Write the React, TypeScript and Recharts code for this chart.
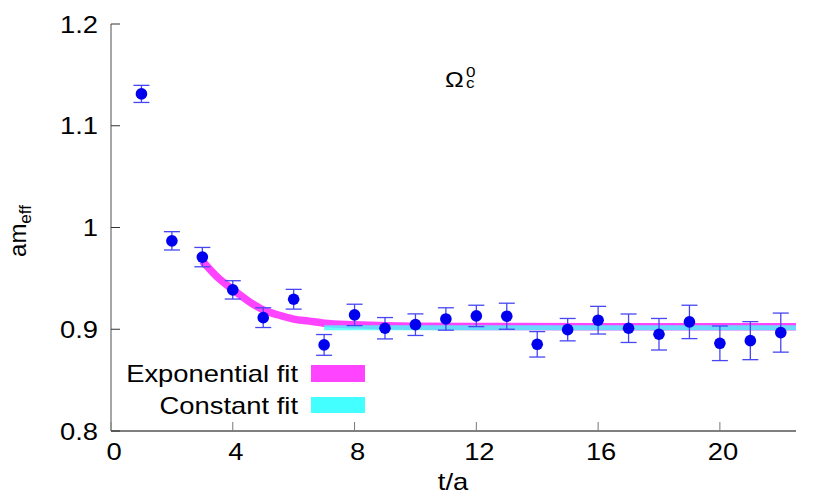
import React from 'react';
import {
  ComposedChart, Scatter, Line, XAxis, YAxis, ErrorBar,
} from 'recharts';

// effective mass data
const tValues = [1, 2, 3, 4, 5, 6, 7, 8, 9, 10, 11, 12, 13, 14, 15, 16, 17, 18, 19, 20, 21, 22];
const amEff = [
  1.1313, 0.9869, 0.9709, 0.9387, 0.9114, 0.9295, 0.8846, 0.9141, 0.9010, 0.9045, 0.9101,
  0.9131, 0.9128, 0.8852, 0.8996, 0.9089, 0.9010, 0.8951, 0.9072, 0.8862, 0.8888, 0.8967,
];
const amErr = [
  0.0084, 0.009, 0.0095, 0.009, 0.0097, 0.0097, 0.0102, 0.0105, 0.0105, 0.0106, 0.011,
  0.0105, 0.0128, 0.0125, 0.011, 0.0136, 0.014, 0.0155, 0.0164, 0.017, 0.0187, 0.0192,
];

// exponential fit curve
const expFitT = [3, 3.5, 4, 4.5, 5, 5.5, 6, 6.5, 7, 8, 9, 10, 12, 16, 22.5];
const expFitY = [0.967, 0.951, 0.939, 0.928, 0.919, 0.914, 0.910, 0.908, 0.906, 0.9045, 0.9035, 0.903, 0.9027, 0.9025, 0.9025];

// constant fit
const constFitT = [7, 22.5];
const constFitY = [0.9015, 0.9015];

const xTicks = [0, 4, 8, 12, 16, 20];
const yTicks = [0.8, 0.9, 1, 1.1, 1.2];

const points = tValues.map((t, i) => ({ t, y: amEff[i], err: amErr[i] }));
const expFit = expFitT.map((t, i) => ({ t, y: expFitY[i] }));
const constFit = constFitT.map((t, i) => ({ t, y: constFitY[i] }));

const FONT = '"Liberation Sans", Arial, sans-serif';
const STRETCH = 1.14;

const XTick = (props: any) => {
  const { x, y, payload } = props;
  return (
    <g transform={`translate(${x + 3},${y}) scale(${STRETCH},1)`}>
      <text x={0} y={0} dy="0.71em" textAnchor="middle" fontSize={24} fill="#000" fontFamily={FONT}>
        {payload.value}
      </text>
    </g>
  );
};

const YTick = (props: any) => {
  const { x, y, payload } = props;
  return (
    <g transform={`translate(${x},${y}) scale(${STRETCH},1)`}>
      <text x={0} y={0} dy="0.355em" textAnchor="end" fontSize={24} fill="#000" fontFamily={FONT}>
        {String(payload.value)}
      </text>
    </g>
  );
};

const Dot = (props: any) => <circle cx={props.cx} cy={props.cy} r={5.8} fill="#0000ee" />;

const abs = (left: number, top: number, extra: React.CSSProperties = {}): React.CSSProperties => ({
  position: 'absolute', left, top, fontFamily: FONT, color: '#000', whiteSpace: 'nowrap', ...extra,
});

export default function App() {
  return (
    <div style={{ position: 'absolute', left: 0, top: 0, width: 830, height: 498, background: '#fff' }}>
      <ComposedChart width={830} height={498} margin={{ top: 24, right: 34, bottom: 27, left: 51 }}>
        <XAxis
          xAxisId="b" dataKey="t" type="number" domain={[0, 22.5]} ticks={xTicks} allowDataOverflow
          height={40} tickSize={-9} tickMargin={21} tick={<XTick />}
          axisLine={{ stroke: '#000', strokeWidth: 1 }} tickLine={{ stroke: '#777' }}
        />
        <XAxis
          xAxisId="top" orientation="top" type="number" domain={[0, 22.5]} ticks={xTicks} allowDataOverflow
          height={0} tickSize={-9} tick={false}
          axisLine={{ stroke: '#000', strokeWidth: 1 }} tickLine={{ stroke: '#777' }}
        />
        <YAxis
          yAxisId="l" dataKey="y" type="number" domain={[0.8, 1.2]} ticks={yTicks} allowDataOverflow
          width={60} tickSize={-9} tickMargin={22} tick={<YTick />}
          axisLine={{ stroke: '#888', strokeWidth: 1.5 }} tickLine={{ stroke: '#333' }}
        />
        <YAxis
          yAxisId="r" orientation="right" type="number" domain={[0.8, 1.2]} ticks={yTicks} allowDataOverflow
          width={0} tickSize={-9} tick={false}
          axisLine={{ stroke: '#888', strokeWidth: 1.5 }} tickLine={{ stroke: '#333' }}
        />
        <Line
          xAxisId="b" yAxisId="l" data={expFit} dataKey="y" type="monotone" stroke="#ff44ff"
          strokeWidth={7.5} dot={false} activeDot={false} isAnimationActive={false}
        />
        <Line
          xAxisId="b" yAxisId="l" data={constFit} dataKey="y" type="linear" stroke="#44ffff"
          strokeOpacity={0.8} strokeWidth={5} dot={false} activeDot={false} isAnimationActive={false}
        />
        <Scatter xAxisId="b" yAxisId="l" data={points} dataKey="y" shape={<Dot />} isAnimationActive={false}>
          <ErrorBar dataKey="err" direction="y" width={8} stroke="#4646f5" strokeWidth={1.3} isAnimationActive={false} />
        </Scatter>
      </ComposedChart>

      {/* title */}
      <span style={abs(445, 68.5, { fontSize: 22, lineHeight: '22px', transform: `scaleX(${STRETCH})`, transformOrigin: 'left' })}>Ω</span>
      <span style={abs(466, 77.3, { fontSize: 15, lineHeight: '11px', transform: `scaleX(${STRETCH})`, transformOrigin: 'left' })}>c</span>
      <span style={abs(466, 66, { fontSize: 15, lineHeight: '11px', transform: `scaleX(${STRETCH})`, transformOrigin: 'left' })}>0</span>

      {/* axis labels */}
      <div style={abs(353, 469.7, { width: 200, textAlign: 'center', fontSize: 24, lineHeight: '24px', transform: `scaleX(${STRETCH})` })}>t/a</div>
      <div style={abs(-78, 215, { width: 200, textAlign: 'center', fontSize: 24, lineHeight: '24px', transform: 'rotate(-90deg)' })}>
        am<sub style={{ fontSize: 17, verticalAlign: '-5px' }}>eff</sub>
      </div>

      {/* legend */}
      <div style={abs(0, 361.7, { width: 298, textAlign: 'right', fontSize: 24, lineHeight: '24px', transform: `scaleX(${STRETCH})`, transformOrigin: 'right' })}>Exponential fit</div>
      <div style={abs(311, 365, { width: 54, height: 17, background: '#ff44ff' })} />
      <div style={abs(0, 393.7, { width: 298, textAlign: 'right', fontSize: 24, lineHeight: '24px', transform: `scaleX(${STRETCH})`, transformOrigin: 'right' })}>Constant fit</div>
      <div style={abs(311, 397, { width: 54, height: 16, background: '#44ffff' })} />
    </div>
  );
}
